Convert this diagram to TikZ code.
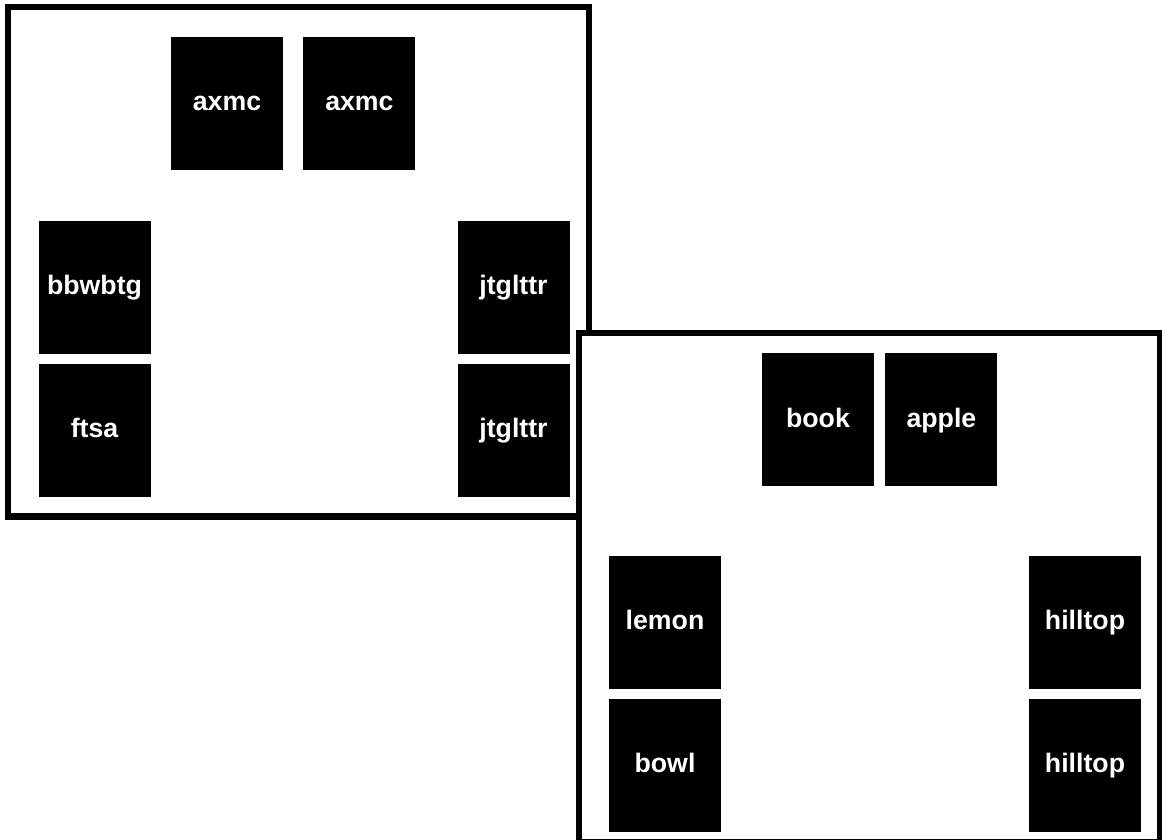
\documentclass[tikz,border=0pt]{standalone}
\usepackage{fontspec}
\setmainfont{Liberation Sans}
\usepackage{tikz}
\usetikzlibrary{positioning}

\begin{document}
\begin{tikzpicture}[
      x=1pt, y=-1pt,
      room/.style={draw=black, line width=6.5pt, fill=white},
      card/.style={rectangle, fill=black, text=white, inner sep=0pt,
                   minimum width=112pt, minimum height=133pt,
                   font=\fontsize{26.7}{32}\selectfont\bfseries,
                   text height=15pt, text depth=0pt}
    ]
    \useasboundingbox (0,0) rectangle (1162,840);
    \clip (0,0) rectangle (1162,840);
    \draw[room] (8,7) rectangle (589,516.5);
    \node[card] at (227,103.5) (a1) {axmc};
    \node[card, right=20pt of a1] (a2) {axmc};
    \node[card] at (94.5,287) (bb) {bbwbtg};
    \node[card, below=10pt of bb] (ft) {ftsa};
    \node[card] at (513.5,287) (j1) {jtglttr};
    \node[card, below=10pt of j1] (j2) {jtglttr};
    \draw[room] (579,333) rectangle (1160,842);
    \node[card] at (818,419.5) (bk) {book};
    \node[card, right=11pt of bk] (ap) {apple};
    \node[card] at (665,622) (le) {lemon};
    \node[card, below=10pt of le] (bo) {bowl};
    \node[card] at (1085,622) (h1) {hilltop};
    \node[card, below=10pt of h1] (h2) {hilltop};
  \end{tikzpicture}
\end{document}
